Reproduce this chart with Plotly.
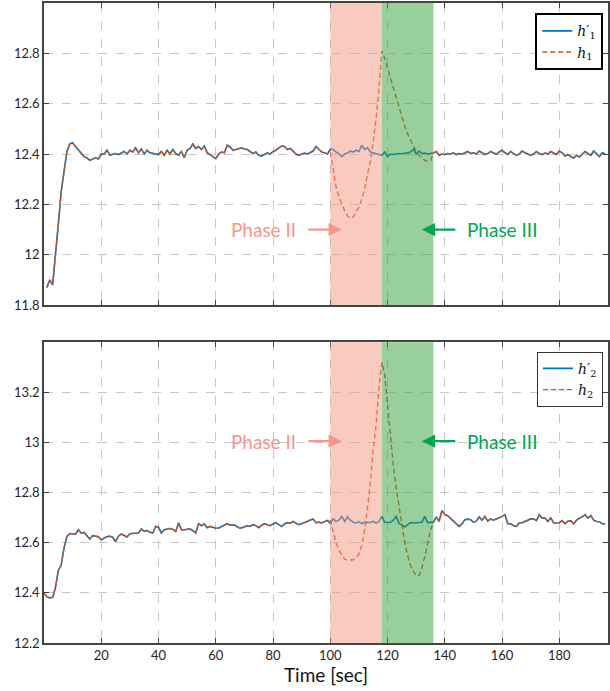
import plotly.graph_objects as go

# ---------------- data ----------------
t_top = list(range(1, 197))
h1p = [
    11.87, 11.90, 11.88, 11.99, 12.12, 12.25, 12.34, 12.41, 12.44, 12.445,
    12.43, 12.415, 12.40, 12.39, 12.385, 12.375, 12.38, 12.385, 12.38, 12.40,
    12.40, 12.415, 12.395, 12.40, 12.402, 12.398, 12.405, 12.41, 12.40, 12.415,
    12.408, 12.425, 12.405, 12.42, 12.40, 12.415, 12.405, 12.402, 12.40, 12.398,
    12.41, 12.395, 12.415, 12.40, 12.418, 12.402, 12.395, 12.41, 12.386, 12.415,
    12.422, 12.44, 12.422, 12.43, 12.418, 12.432, 12.405, 12.398, 12.39, 12.382,
    12.40, 12.408, 12.405, 12.435, 12.428, 12.415, 12.418, 12.42, 12.425, 12.42,
    12.418, 12.41, 12.402, 12.408, 12.395, 12.392, 12.40, 12.405, 12.40, 12.41,
    12.415, 12.425, 12.432, 12.43, 12.418, 12.422, 12.41, 12.40, 12.395, 12.40,
    12.404, 12.40, 12.405, 12.412, 12.43, 12.42, 12.408, 12.405, 12.40, 12.42,
    12.418, 12.408, 12.402, 12.39, 12.40, 12.404, 12.412, 12.408, 12.415, 12.41,
    12.435, 12.418, 12.425, 12.408, 12.405, 12.40, 12.398, 12.395, 12.408, 12.39,
    12.40, 12.398, 12.40, 12.402, 12.40, 12.404, 12.404, 12.408, 12.42, 12.40,
    12.412, 12.402, 12.404, 12.40, 12.402, 12.404, 12.41, 12.395, 12.40, 12.398,
    12.402, 12.40, 12.405, 12.398, 12.402, 12.40, 12.404, 12.41, 12.402, 12.405,
    12.40, 12.412, 12.405, 12.398, 12.402, 12.41, 12.404, 12.40, 12.408, 12.415,
    12.405, 12.398, 12.41, 12.402, 12.395, 12.40, 12.412, 12.405, 12.40, 12.395,
    12.40, 12.41, 12.402, 12.398, 12.404, 12.40, 12.41, 12.405, 12.398, 12.412,
    12.405, 12.392, 12.398, 12.39, 12.384, 12.395, 12.388, 12.40, 12.41, 12.402,
    12.395, 12.412, 12.40, 12.39, 12.405, 12.40,
]
# h1 differs from h1' only during the phases (t = 100 .. 135)
h1_phase_t0 = 100
h1_phase = [
    12.41, 12.33, 12.27, 12.23, 12.20, 12.175, 12.155, 12.145, 12.15, 12.17,
    12.19, 12.22, 12.26, 12.32, 12.37, 12.45, 12.54, 12.66, 12.81, 12.78,
    12.74, 12.70, 12.66, 12.62, 12.58, 12.545, 12.51, 12.48, 12.455, 12.43,
    12.41, 12.395, 12.385, 12.375, 12.372, 12.373,
]

t_bot = list(range(0, 197))
h2p = [
    12.40, 12.385, 12.38, 12.382, 12.42, 12.49, 12.51, 12.58, 12.625, 12.636,
    12.636, 12.634, 12.652, 12.638, 12.641, 12.63, 12.615, 12.628, 12.625, 12.624,
    12.612, 12.62, 12.625, 12.626, 12.622, 12.604, 12.626, 12.635, 12.628, 12.623,
    12.636, 12.636, 12.637, 12.639, 12.655, 12.645, 12.649, 12.642, 12.639, 12.665,
    12.662, 12.639, 12.652, 12.655, 12.657, 12.654, 12.645, 12.679, 12.652, 12.652,
    12.653, 12.655, 12.648, 12.639, 12.676, 12.668, 12.675, 12.66, 12.665, 12.66,
    12.658, 12.659, 12.665, 12.668, 12.676, 12.67, 12.672, 12.668, 12.66, 12.659,
    12.662, 12.668, 12.665, 12.672, 12.668, 12.66, 12.67, 12.676, 12.672, 12.668,
    12.675, 12.68, 12.672, 12.665, 12.675, 12.68, 12.678, 12.685, 12.678, 12.672,
    12.676, 12.68, 12.686, 12.69, 12.695, 12.68, 12.682, 12.679, 12.684, 12.689,
    12.678, 12.695, 12.685, 12.69, 12.705, 12.685, 12.703, 12.69, 12.682, 12.679,
    12.684, 12.676, 12.682, 12.68, 12.681, 12.685, 12.678, 12.684, 12.705, 12.682,
    12.683, 12.681, 12.69, 12.705, 12.678, 12.67, 12.663, 12.672, 12.68, 12.679,
    12.68, 12.68, 12.682, 12.705, 12.68, 12.682, 12.681, 12.703, 12.685, 12.728,
    12.712, 12.708, 12.698, 12.685, 12.675, 12.665, 12.675, 12.692, 12.694, 12.692,
    12.682, 12.686, 12.703, 12.69, 12.705, 12.686, 12.695, 12.69, 12.695, 12.699,
    12.705, 12.712, 12.676, 12.676, 12.668, 12.665, 12.68, 12.68, 12.685, 12.688,
    12.695, 12.695, 12.688, 12.712, 12.698, 12.698, 12.685, 12.699, 12.68, 12.679,
    12.68, 12.688, 12.676, 12.686, 12.688, 12.676, 12.69, 12.698, 12.703, 12.712,
    12.698, 12.708, 12.69, 12.685, 12.684, 12.676, 12.676,
]
h2_phase_t0 = 100
h2_phase = [
    12.69, 12.64, 12.60, 12.57, 12.55, 12.535, 12.53, 12.53, 12.532, 12.54,
    12.555, 12.59, 12.65, 12.74, 12.84, 12.97, 13.07, 13.22, 13.32, 13.27,
    13.15, 13.02, 12.91, 12.82, 12.74, 12.66, 12.60, 12.55, 12.51, 12.487,
    12.468, 12.47, 12.50, 12.545, 12.60, 12.65,
]

phase2 = [100, 118]
phase3 = [118, 136]
xticks = [20, 40, 60, 80, 100, 120, 140, 160, 180]
yticks_top = [11.8, 12.0, 12.2, 12.4, 12.6, 12.8]
yticks_top_txt = ["11.8", "12", "12.2", "12.4", "12.6", "12.8"]
yticks_bot = [12.2, 12.4, 12.6, 12.8, 13.0, 13.2]
yticks_bot_txt = ["12.2", "12.4", "12.6", "12.8", "13", "13.2"]

# build the full h1, h2 series
h1 = list(h1p)
for i, v in enumerate(h1_phase):
    h1[t_top.index(h1_phase_t0 + i)] = v
h2 = list(h2p)
for i, v in enumerate(h2_phase):
    h2[t_bot.index(h2_phase_t0 + i)] = v

BLUE = "#0072BD"
ORANGE = "#D95319"
PINK = "rgb(243,149,129)"
GREEN = "rgb(49,159,59)"
TXT_PINK = "#F6978C"
TXT_GREEN = "#00A651"
FONT = "Lato"

fig = go.Figure()
fig.add_trace(go.Scatter(x=t_top, y=h1p, mode="lines", line=dict(color=BLUE, width=1.6),
                         name="<i>h</i>′<sub>1</sub>", xaxis="x", yaxis="y", legend="legend"))
fig.add_trace(go.Scatter(x=t_top, y=h1, mode="lines", line=dict(color=ORANGE, width=1.4, dash="5px,3px"),
                         name="<i>h</i><sub>1</sub>", xaxis="x", yaxis="y", legend="legend"))
fig.add_trace(go.Scatter(x=t_bot, y=h2p, mode="lines", line=dict(color=BLUE, width=1.6),
                         name="<i>h</i>′<sub>2</sub>", xaxis="x2", yaxis="y2", legend="legend2"))
fig.add_trace(go.Scatter(x=t_bot, y=h2, mode="lines", line=dict(color=ORANGE, width=1.4, dash="5px,3px"),
                         name="<i>h</i><sub>2</sub>", xaxis="x2", yaxis="y2", legend="legend2"))

shapes = []
for xr, yr in (("x", "y"), ("x2", "y2")):
    for (a, b), col in ((phase2, PINK), (phase3, GREEN)):
        shapes.append(dict(type="rect", xref=xr, yref=yr + " domain", x0=a, x1=b, y0=0, y1=1,
                           fillcolor=col, opacity=0.5, line=dict(width=0), layer="above"))

annotations = []
for xr, yr, yv in (("x", "y", 12.10), ("x2", "y2", 13.005)):
    annotations += [
        dict(xref=xr, yref=yr, x=76.5, y=yv, text="Phase II", showarrow=False,
             font=dict(family=FONT, size=19, color=TXT_PINK)),
        dict(xref=xr, yref=yr, x=160, y=yv, text="Phase III", showarrow=False,
             font=dict(family=FONT, size=19, color=TXT_GREEN)),
        dict(xref=xr, yref=yr, x=104, y=yv, ax=91.8, ay=yv, axref=xr, ayref=yr, text="",
             showarrow=True, arrowhead=2, arrowsize=1.2, arrowwidth=2.2, arrowcolor=TXT_PINK),
        dict(xref=xr, yref=yr, x=132, y=yv, ax=144.2, ay=yv, axref=xr, ayref=yr, text="",
             showarrow=True, arrowhead=2, arrowsize=1.2, arrowwidth=2.2, arrowcolor=TXT_GREEN),
    ]

axis_common = dict(showline=True, linecolor="#444444", linewidth=1.5, mirror="ticks",
                   ticks="inside", ticklen=5, tickcolor="#444444", tickwidth=1,
                   showgrid=True, gridcolor="#c8c8c8", griddash="dash", gridwidth=1,
                   zeroline=False, tickfont=dict(family=FONT, size=13, color="#262626"))

fig.update_layout(
    width=610, height=691,
    margin=dict(l=44, r=0, t=3, b=48),
    paper_bgcolor="white", plot_bgcolor="white",
    xaxis=dict(domain=[0, 1], anchor="y", range=[0, 197], tickvals=xticks,
               showticklabels=False, **axis_common),
    yaxis=dict(domain=[0.528, 1.0], anchor="x", range=[11.8, 13.0], tickvals=yticks_top,
               ticktext=yticks_top_txt, **axis_common),
    xaxis2=dict(domain=[0, 1], anchor="y2", range=[0, 197], tickvals=xticks,
                title=dict(text="Time [sec]", font=dict(family=FONT, size=19, color="#111111"), standoff=2),
                **axis_common),
    yaxis2=dict(domain=[0.0, 0.470], anchor="x2", range=[12.2, 13.4], tickvals=yticks_bot,
                ticktext=yticks_bot_txt, **axis_common),
    legend=dict(x=0.871, y=0.984, xanchor="left", yanchor="top", bgcolor="white",
                bordercolor="black", borderwidth=2, itemwidth=30, tracegroupgap=0,
                font=dict(family="DejaVu Serif", size=14, color="#111111")),
    legend2=dict(x=0.874, y=0.455, xanchor="left", yanchor="top", bgcolor="white",
                 bordercolor="#333333", borderwidth=1, itemwidth=30, tracegroupgap=0,
                 font=dict(family="DejaVu Serif", size=14, color="#111111")),
    shapes=shapes,
    annotations=annotations,
    showlegend=True,
)

fig.write_html("out.html")
